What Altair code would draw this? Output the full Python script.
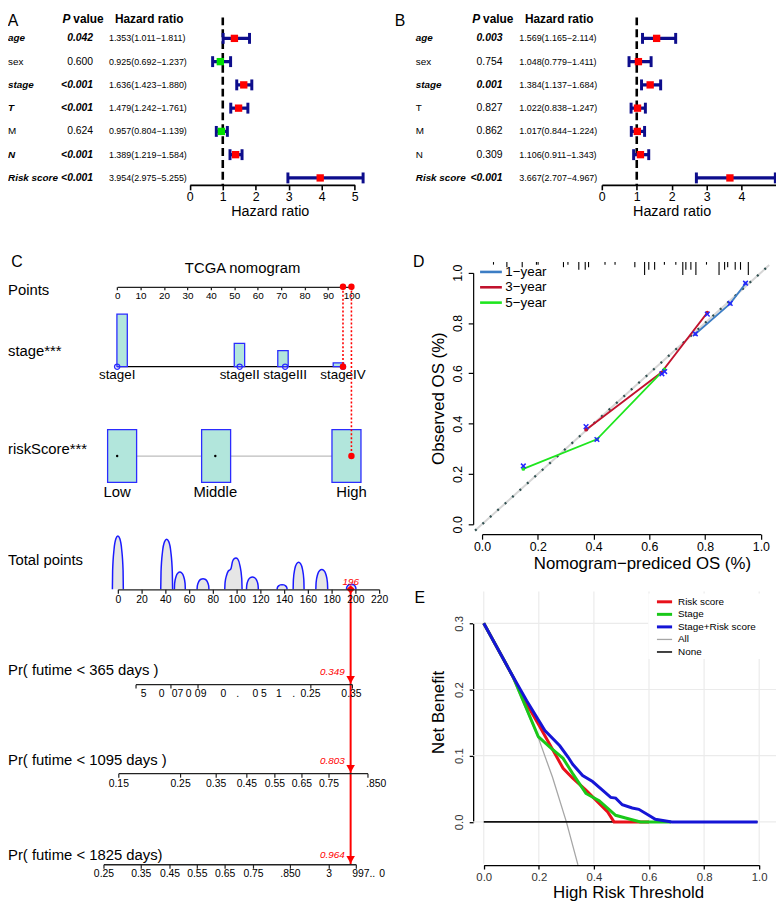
import altair as alt
import pandas as pd

FONT = "Liberation Sans"
W, H = 776, 901
OFF = 8


def R(v):
    return v - OFF


# ---------------- Panel A / B : forest plots ----------------
factors = ["age", "sex", "stage", "T", "M", "N", "Risk score"]
A_p = ["0.042", "0.600", "<0.001", "<0.001", "0.624", "<0.001", "<0.001"]
A_hr = [1.353, 0.925, 1.636, 1.479, 0.957, 1.389, 3.954]
A_lo = [1.011, 0.692, 1.423, 1.242, 0.804, 1.219, 2.975]
A_hi = [1.811, 1.237, 1.880, 1.761, 1.139, 1.584, 5.255]
A_sig = [True, False, True, True, False, True, True]
B_p = ["0.003", "0.754", "0.001", "0.827", "0.862", "0.309", "<0.001"]
B_hr = [1.569, 1.048, 1.384, 1.022, 1.017, 1.106, 3.667]
B_lo = [1.165, 0.779, 1.137, 0.838, 0.844, 0.911, 2.707]
B_hi = [2.114, 1.411, 1.684, 1.247, 1.224, 1.343, 4.967]
B_sig = [True, False, True, False, False, False, True]
hr_domain = [0, 5]
A_ticks = [0, 1, 2, 3, 4, 5]
B_ticks = [0, 1, 2, 3, 4]
hr_ref = 1

# ---------------- Panel C : nomogram ----------------
points_ticks = list(range(0, 101, 10))
stage_levels = ["stageI", "stageII", "stageIII", "stageIV"]
stage_pts = [0, 52.3, 71.7, 96.4]
stage_freq = [0.54, 0.24, 0.165, 0.04]
risk_levels = ["Low", "Middle", "High"]
risk_pts = [0, 41.9, 100]
risk_freq = [0.333, 0.333, 0.334]
sel_stage = "stageIV"
sel_risk = "High"
sel_total = 196
total_ticks = list(range(0, 221, 20))
# density of total points (one list per bump)
tp_x = [
    [-4.6, -4.4, -3.2, -1.6, 0, 1.6, 3.2, 4.4, 4.6],
    [36.1, 36.35, 37.6, 39.35, 41.1, 42.85, 44.6, 45.85, 46.1],
    [47.6, 47.8, 49.0, 50.6, 52.2, 53.8, 55.4, 56.6, 56.8],
    [66.7, 66.95, 68.2, 69.95, 71.7, 73.45, 75.2, 76.45, 76.7],
    [90, 90.3, 91.5, 93, 94.5, 95.3, 96.5, 98, 99.4, 101, 102.8, 104.3, 104.6],
    [108.3, 108.55, 109.8, 111.55, 113.3, 115.05, 116.8, 118.05, 118.3],
    [134.1, 134.3, 135.4, 136.8, 138.3, 139.8, 141.2, 142.3, 142.5],
    [147.6, 147.8, 149.0, 150.6, 152.2, 153.8, 155.4, 156.6, 156.8],
    [166.7, 166.95, 168.2, 169.95, 171.7, 173.45, 175.2, 176.45, 176.7],
    [192.5, 192.7, 193.7, 195.1, 196.5, 197.9, 199.3, 200.3, 200.5],
]
tp_d = [
    [0, 1.9, 4.05, 5.13, 5.4, 5.13, 4.05, 1.9, 0],
    [0, 1.77, 3.8, 4.82, 5.07, 4.82, 3.8, 1.77, 0],
    [0, 0.61, 1.3, 1.65, 1.74, 1.65, 1.3, 0.61, 0],
    [0, 0.37, 0.8, 1.02, 1.07, 1.02, 0.8, 0.37, 0],
    [0, 0.7, 1.4, 1.85, 1.98, 2.1, 2.8, 3.1, 3.17, 3.05, 2.4, 1.1, 0],
    [0, 0.43, 0.93, 1.18, 1.24, 1.18, 0.93, 0.43, 0],
    [0, 0.16, 0.35, 0.45, 0.47, 0.45, 0.35, 0.16, 0],
    [0, 0.96, 2.06, 2.6, 2.74, 2.6, 2.06, 0.96, 0],
    [0, 0.7, 1.5, 1.9, 2.0, 1.9, 1.5, 0.7, 0],
    [0, 0.18, 0.38, 0.48, 0.5, 0.48, 0.38, 0.18, 0],
]
pr365_ticks = [15.3, 44.7, 67.5, 162.5, 197.5]
pr365_labels = ["5", "0", "07", "0", "09", "0", ".", "0 5", "1", ".", "0.25", "0.35"]
pr365_pos = [21.7, 36.9, 50.3, 59.7, 69.7, 88.9, 100.8, 119.4, 135.6, 148.1, 162.2, 196.7]
pr1095_ticks = [0.8, 52.8, 82.8, 108.6, 132.2, 155.0, 177.8, 210.6]
pr1095_labels = ["0.15", "0.25", "0.35", "0.45", "0.55", "0.65", "0.75", ".850"]
pr1095_pos = [0.8, 52.8, 82.8, 108.6, 132.2, 155.0, 177.8, 217.5]
pr1825_ticks = [-11.7, 19.7, 43.9, 66.9, 90.3, 114.2, 145.3, 178.0, 200.8]
pr1825_labels = ["0.25", "0.35", "0.45", "0.55", "0.65", "0.75", ".850", "3", "997..", "0"]
pr1825_pos = [-11.7, 19.7, 43.9, 66.9, 90.3, 114.2, 145.3, 178.0, 207.0, 222.5]
pr_probs = ["0.349", "0.803", "0.964"]

# ---------------- Panel D : calibration ----------------
cal_series = ["1\u2212year", "3\u2212year", "5\u2212year"]
cal_colors = ["#3c7dc4", "#c1122d", "#1ee61e"]
cal1_x = [0.765, 0.890, 0.945]
cal1_y = [0.756, 0.877, 0.957]
cal3_x = [0.373, 0.643, 0.808]
cal3_y = [0.376, 0.603, 0.841]
cal5_x = [0.148, 0.412, 0.654]
cal5_y = [0.220, 0.338, 0.616]
xmark_x = [0.148, 0.373, 0.412, 0.645, 0.655, 0.765, 0.808, 0.890, 0.945]
xmark_y = [0.232, 0.388, 0.337, 0.598, 0.607, 0.757, 0.835, 0.878, 0.958]
diag_v = [-0.025, 1.03]
rug_x = [0.041, 0.089, 0.144, 0.195, 0.201, 0.292, 0.308, 0.347, 0.370, 0.382,
         0.441, 0.477, 0.548, 0.583, 0.598, 0.619, 0.654, 0.695, 0.720, 0.731,
         0.749, 0.767, 0.805, 0.850, 0.870, 0.881, 0.908, 0.927, 0.955]
rug_n = [1, 2, 2, 1, 1, 2, 1, 3, 3, 2, 1, 1, 2, 5, 3, 3, 1, 1, 5, 3, 3, 5, 1, 5, 3, 2, 3, 3, 5]
unit_ticks = [0, 0.2, 0.4, 0.6, 0.8, 1.0]

# ---------------- Panel E : decision curve ----------------
dca_all_x = [0, 0.1, 0.2, 0.25, 0.3, 0.342]
dca_all_y = [0.3, 0.222, 0.125, 0.067, 0.0, -0.065]
dca_none_x = [0, 0.994]
dca_none_y = [0, 0]
dca_risk_x = [0, 0.108, 0.156, 0.198, 0.245, 0.288, 0.323, 0.371, 0.419, 0.45, 0.473, 0.6]
dca_risk_y = [0.3, 0.218, 0.178, 0.148, 0.113, 0.081, 0.066, 0.048, 0.028, 0.015, 0.0, 0.0]
dca_stage_x = [0, 0.108, 0.198, 0.24, 0.288, 0.323, 0.371, 0.419, 0.479, 0.515, 0.569, 0.68]
dca_stage_y = [0.3, 0.218, 0.129, 0.113, 0.096, 0.073, 0.043, 0.032, 0.01, 0.006, 0.0, 0.0]
dca_both_x = [0, 0.108, 0.156, 0.222, 0.276, 0.306, 0.323, 0.359, 0.395, 0.431, 0.461,
              0.479, 0.503, 0.539, 0.563, 0.599, 0.623, 0.683, 0.994]
dca_both_y = [0.3, 0.218, 0.183, 0.138, 0.115, 0.098, 0.087, 0.070, 0.061, 0.048, 0.037,
              0.036, 0.026, 0.021, 0.019, 0.010, 0.004, 0.0, 0.0]
dca_names = ["Risk score", "Stage", "Stage+Risk score", "All", "None"]
dca_colors = ["#e8111b", "#19c819", "#1515d6", "#a6a6a6", "#111111"]
dca_widths = [3, 3, 3, 1.3, 1.6]
dca_xticks = [0, 0.2, 0.4, 0.6, 0.8, 1.0]
dca_yticks = [0, 0.1, 0.2, 0.3]

# ---------------- helpers ----------------
NAVY = "#0d0d8c"
TEAL = "#b2e6dc"
BOXBLUE = "#2b2bff"
ONE = pd.DataFrame({"k": [0]})


def sc(domain, rng):
    return alt.Scale(domain=domain, range=rng, nice=False, zero=False)


def T(text, x, y, size, align="center", baseline="middle", color="black", **kw):
    return alt.Chart(ONE).mark_text(
        text=text, font=FONT, fontSize=size, align=align, baseline=baseline, color=color, **kw
    ).encode(x=alt.value(x), y=alt.value(y))


def axis(orient, offset, values, fmt, size, **kw):
    base = dict(orient=orient, offset=offset, values=values, format=fmt, title=None, grid=False,
                domainColor="black", domainWidth=1.3, tickColor="black", tickWidth=1.3,
                tickSize=5, labelFont=FONT, labelFontSize=size, labelColor="black",
                labelPadding=2, labelFlush=False, labelOverlap=False)
    base.update(kw)
    return alt.Axis(**base)


layers = []


# ---------------- forest panels ----------------
def forest(hr, lo, hi, pv, sig, ticks, x0, x5, lab_x, p_x, hr_x, hp_x, hv_x, hh_x, letter, let_x, title_x):
    df = pd.DataFrame(dict(row=list(range(len(factors))), factor=factors, p=pv,
                           hr=hr, lo=lo, hi=hi, sig=sig))
    df["hrtxt"] = [f"{a:.3f}({b:.3f}\u2212{c:.3f})" for a, b, c in zip(hr, lo, hi)]
    df["col"] = ["#00e000" if a < hr_ref else "#ff0000" for a in hr]
    xs = sc(hr_domain, [R(x0), R(x5)])
    ys = sc([0, len(factors) - 1], [R(34), R(175)])
    Y = alt.Y("row:Q", scale=ys, axis=None)
    ax = axis("bottom", R(182) - H, ticks, "d", 12.5, domainWidth=1.6, tickWidth=1.6,
              labelPadding=1, zindex=1)
    ref = pd.DataFrame({"v": [hr_ref], "a": [-0.9], "b": [len(factors) - 1 + 0.3]})
    out = [
        alt.Chart(ref).mark_rule(color="black", strokeWidth=2.6, strokeDash=[8, 4]).encode(
            x=alt.X("v:Q", scale=xs, axis=None), y=alt.Y("a:Q", scale=ys, axis=None), y2="b:Q"),
        alt.Chart(df).mark_rule(color=NAVY, strokeWidth=3.3).encode(
            x=alt.X("lo:Q", scale=xs, axis=ax), x2="hi:Q", y=Y),
        alt.Chart(df).transform_fold(["lo", "hi"], as_=["end", "val"]).mark_tick(
            orient="vertical", color=NAVY, thickness=3, size=11, opacity=1).encode(
            x=alt.X("val:Q", scale=xs, axis=None), y=Y),
        alt.Chart(df).mark_square(size=55, opacity=1).encode(
            x=alt.X("hr:Q", scale=xs, axis=None), y=Y, color=alt.Color("col:N", scale=None)),
        alt.Chart(df).transform_filter("datum.sig").mark_text(
            align="left", font=FONT, fontSize=10, fontWeight="bold", fontStyle="italic").encode(
            x=alt.value(lab_x), y=Y, text="factor:N"),
        alt.Chart(df).transform_filter("!datum.sig").mark_text(
            align="left", font=FONT, fontSize=10).encode(x=alt.value(lab_x), y=Y, text="factor:N"),
        alt.Chart(df).transform_filter("datum.sig").mark_text(
            align="right", font=FONT, fontSize=10.5, fontWeight="bold", fontStyle="italic").encode(
            x=alt.value(p_x), y=Y, text="p:N"),
        alt.Chart(df).transform_filter("!datum.sig").mark_text(
            align="right", font=FONT, fontSize=10.5).encode(x=alt.value(p_x), y=Y, text="p:N"),
        alt.Chart(df).mark_text(align="left", font=FONT, fontSize=9).encode(
            x=alt.value(hr_x), y=Y, text="hrtxt:N"),
        T("P", hp_x, 1, 12, align="left", baseline="top", fontWeight="bold", fontStyle="italic"),
        T("value", hv_x, 1, 12, align="left", baseline="top", fontWeight="bold"),
        T("Hazard ratio", hh_x, 1, 12, align="left", baseline="top", fontWeight="bold"),
        T(letter, let_x, 0, 16, baseline="top"),
        T("Hazard ratio", title_x, R(209.5), 14.5),
    ]
    return out


layers += forest(A_hr, A_lo, A_hi, A_p, A_sig, A_ticks, 191.7, 358.3, 0, R(94), R(110),
                 R(63), R(74), R(116), "A", 5, R(273))
layers += forest(B_hr, B_lo, B_hi, B_p, B_sig, B_ticks, 608, 784.5, R(420), R(507.7), R(524.7),
                 R(477), R(488), R(530.3), "B", R(404), R(679))

# ---------------- nomogram panel C ----------------
PT_AX_Y = R(285)
STAGE_BASE_Y = R(365.7)
RISK_MID_Y = R(456)
TOT_AX_Y = R(590.7)
xP = sc([0, 100], [R(118.3), R(355)])
yS = sc([0, 0.54], [STAGE_BASE_Y, STAGE_BASE_Y - 53])
yRk = sc([-0.5, 0.5], [RISK_MID_Y + 80, RISK_MID_Y - 80])
xT = sc([0, 220], [R(119), R(383)])
yDn = sc([0, 6], [TOT_AX_Y, TOT_AX_Y - 60])

df_stage = pd.DataFrame({"stage": stage_levels, "pts": stage_pts, "freq": stage_freq})
df_stage["base"] = 0.0
df_risk = pd.DataFrame({"grp": risk_levels, "pts": risk_pts, "freq": risk_freq})
df_pts = pd.DataFrame({"t": points_ticks})
sel_pts = pd.DataFrame({"pts": [stage_pts[stage_levels.index(sel_stage)],
                                risk_pts[risk_levels.index(sel_risk)]]})

XP = lambda f, ax=None: alt.X(f, type="quantitative", scale=xP, axis=ax)
XT = lambda f, ax=None: alt.X(f, type="quantitative", scale=xT, axis=ax)

layers += [
    T("C", R(17), R(260), 16),
    T("TCGA nomogram", R(245), R(266), 15),
    T("Points", 0, R(288.3), 15, align="left"),
    T("stage***", 0, R(350), 15, align="left"),
    T("riskScore***", 0, R(449.3), 15, align="left"),
    T("Total points", 0, R(561), 15, align="left"),
    T("Pr( futime < 365 days )", 0, R(672.7), 15, align="left"),
    T("Pr( futime < 1095 days )", 0, R(763.3), 15, align="left"),
    T("Pr( futime < 1825 days)", 0, R(859.3), 15, align="left"),
    # points axis
    alt.Chart(df_pts).mark_point(opacity=0).encode(
        x=XP("t", axis("bottom", PT_AX_Y - H, points_ticks, "d", 10, tickSize=3,
                       labelPadding=1, domainColor="#222", tickColor="#222")),
        y=alt.value(PT_AX_Y)),
    # stage row
    alt.Chart(pd.DataFrame({"a": [min(stage_pts)], "b": [max(stage_pts)], "y": [0]})).mark_rule(
        color="black", strokeWidth=1.3).encode(
        x=XP("a"), x2="b:Q", y=alt.Y("y:Q", scale=yS, axis=None)),
    alt.Chart(df_stage).mark_bar(size=10.5, orient="vertical", fill=TEAL, stroke=BOXBLUE,
                                 strokeWidth=1.3).encode(
        x=XP("pts"), y=alt.Y("freq:Q", scale=yS, axis=None), y2="base:Q"),
    alt.Chart(df_stage).mark_point(shape="circle", size=28, color=BOXBLUE, filled=False,
                                   strokeWidth=1.3, opacity=1).encode(
        x=XP("pts"), y=alt.Y("base:Q", scale=yS, axis=None)),
    alt.Chart(df_stage).mark_text(font=FONT, fontSize=13.5, dy=8.8).encode(
        x=XP("pts"), y=alt.Y("base:Q", scale=yS, axis=None), text="stage:N"),
    # risk row
    alt.Chart(pd.DataFrame({"a": [min(risk_pts)], "b": [max(risk_pts)], "y": [0]})).mark_rule(
        color="#bdbdbd", strokeWidth=1.3).encode(
        x=XP("a"), x2="b:Q", y=alt.Y("y:Q", scale=yRk, axis=None)),
    alt.Chart(df_risk).transform_calculate(lo="-datum.freq/2", hi="datum.freq/2").mark_bar(
        size=29.3, orient="vertical", fill=TEAL, stroke=BOXBLUE, strokeWidth=1.3).encode(
        x=XP("pts"), y=alt.Y("lo:Q", scale=yRk, axis=None), y2="hi:Q"),
    alt.Chart(df_risk).transform_filter(f"datum.grp != '{sel_risk}'").transform_calculate(
        c="0").mark_circle(size=6, color="black", opacity=1).encode(
        x=XP("pts"), y=alt.Y("c:Q", scale=yRk, axis=None)),
    alt.Chart(df_risk).transform_calculate(lo="-datum.freq/2").mark_text(
        font=FONT, fontSize=15, dy=9.5).encode(
        x=XP("pts"), y=alt.Y("lo:Q", scale=yRk, axis=None), text="grp:N"),
    # selection connectors
    alt.Chart(df_stage).transform_filter(f"datum.stage == '{sel_stage}'").mark_rule(
        color="red", strokeDash=[2, 2], strokeWidth=1.6).encode(
        x=XP("pts"), y=alt.value(PT_AX_Y), y2=alt.value(STAGE_BASE_Y)),
    alt.Chart(df_risk).transform_filter(f"datum.grp == '{sel_risk}'").mark_rule(
        color="red", strokeDash=[2, 2], strokeWidth=1.6).encode(
        x=XP("pts"), y=alt.value(PT_AX_Y), y2=alt.value(RISK_MID_Y)),
    alt.Chart(sel_pts).mark_circle(size=42, color="red", opacity=1).encode(
        x=XP("pts"), y=alt.value(PT_AX_Y)),
    alt.Chart(df_stage).transform_filter(f"datum.stage == '{sel_stage}'").mark_circle(
        size=42, color="red", opacity=1).encode(
        x=XP("pts"), y=alt.Y("base:Q", scale=yS, axis=None)),
    alt.Chart(df_risk).transform_filter(f"datum.grp == '{sel_risk}'").transform_calculate(
        c="0").mark_circle(size=42, color="red", opacity=1).encode(
        x=XP("pts"), y=alt.Y("c:Q", scale=yRk, axis=None)),
]

# total points density
rows = []
for i, (xs_, ds_) in enumerate(zip(tp_x, tp_d)):
    for a, b in zip(xs_, ds_):
        rows.append({"bump": i, "tp": a, "d": b})
df_tp = pd.DataFrame(rows)
df_sel = pd.DataFrame({"tp": [sel_total], "lab": [str(sel_total)], "z": [0]})
layers += [
    alt.Chart(df_tp).mark_area(color="#e6e6e6", interpolate="monotone", opacity=1).encode(
        x=XT("tp"), y=alt.Y("d:Q", scale=yDn, axis=None), detail="bump:N"),
    alt.Chart(df_tp).mark_line(color="#1a1aff", strokeWidth=1.5, interpolate="monotone").encode(
        x=XT("tp", axis("bottom", TOT_AX_Y - H, total_ticks, "d", 10.5, tickSize=4,
                        labelPadding=1, domainColor="#222", tickColor="#222", zindex=1)),
        y=alt.Y("d:Q", scale=yDn, axis=None), detail="bump:N"),
    alt.Chart(df_sel).mark_rule(color="red", strokeWidth=2).encode(
        x=XT("tp"), y=alt.value(TOT_AX_Y), y2=alt.value(R(869))),
    alt.Chart(df_sel).mark_point(shape="diamond", filled=True, color="red", size=70, opacity=1).encode(
        x=XT("tp"), y=alt.value(TOT_AX_Y)),
    alt.Chart(df_sel).mark_text(font=FONT, fontSize=10, fontStyle="italic", color="red").encode(
        x=XT("tp"), y=alt.value(R(583)), text="lab:N"),
]


def pr_axis(ticks, labels, pos, prob, y_line, y_lab, y_val):
    dt = pd.DataFrame({"t": ticks})
    dl = pd.DataFrame({"pos": pos, "lab": labels})
    dseg = pd.DataFrame({"a": [min(ticks)], "b": [max(ticks)]})
    dsel = pd.DataFrame({"tp": [sel_total], "prob": [prob]})
    return [
        alt.Chart(dseg).mark_rule(color="#222", strokeWidth=1.3).encode(
            x=XT("a"), x2="b:Q", y=alt.value(y_line)),
        alt.Chart(dt).mark_rule(color="#222", strokeWidth=1.2).encode(
            x=XT("t"), y=alt.value(y_line), y2=alt.value(y_line + 4)),
        alt.Chart(dl).mark_text(font=FONT, fontSize=10.5).encode(
            x=XT("pos"), y=alt.value(y_lab), text="lab:N"),
        alt.Chart(dsel).mark_point(shape="triangle-down", filled=True, color="red", size=75,
                                   opacity=1).encode(x=XT("tp"), y=alt.value(y_line - 5)),
        alt.Chart(dsel).mark_text(font=FONT, fontSize=10, fontStyle="italic", color="red",
                                  align="right", dx=-6).encode(
            x=XT("tp"), y=alt.value(y_val), text="prob:N"),
    ]


layers += pr_axis(pr365_ticks, pr365_labels, pr365_pos, pr_probs[0], R(687), R(696), R(674.3))
layers += pr_axis(pr1095_ticks, pr1095_labels, pr1095_pos, pr_probs[1], R(777), R(787.5), R(764.3))
layers += pr_axis(pr1825_ticks, pr1825_labels, pr1825_pos, pr_probs[2], R(869), R(878.5), R(859.3))

# ---------------- calibration panel D ----------------
xD = sc([0, 1], [R(487), R(768.7)])
yD = sc([0, 1], [R(525), R(270.7)])
XD = lambda f, ax=None: alt.X(f, type="quantitative", scale=xD, axis=ax)
YD = lambda f, ax=None: alt.Y(f, type="quantitative", scale=yD, axis=ax)
df_diag = pd.DataFrame({"x": diag_v, "y": diag_v})
df_rug = pd.DataFrame({"x": rug_x, "n": rug_n})
cal_rows = []
for s, c, xs_, ys_ in zip(cal_series, cal_colors, [cal1_x, cal3_x, cal5_x], [cal1_y, cal3_y, cal5_y]):
    for a, b in zip(xs_, ys_):
        cal_rows.append({"series": s, "col": c, "x": a, "y": b})
df_cal = pd.DataFrame(cal_rows)
df_xm = pd.DataFrame({"x": xmark_x, "y": xmark_y})
df_legD = pd.DataFrame({"i": list(range(len(cal_series))), "s": cal_series, "col": cal_colors})
yLD = sc([0, 2], [R(270), R(301)])
XSHAPE = "M -1 -1 L 1 1 M 1 -1 L -1 1"

layers += [
    alt.Chart(df_diag).mark_line(color="#d6d6d6", strokeWidth=2).encode(
        x=XD("x", axis("bottom", R(535) - H, unit_ticks, ".1f", 12.5, tickWidth=1.2,
                       domainWidth=1.2, labelPadding=1.5)),
        y=YD("y", axis("left", -R(478), unit_ticks, ".1f", 12.5, tickWidth=1.2, domainWidth=1.2,
                       labelAngle=270, labelAlign="center", labelBaseline="bottom",
                       labelPadding=4))),
    alt.Chart(df_diag).mark_line(color="#2f4f4f", strokeWidth=2.3, strokeDash=[2, 8.1]).encode(
        x=XD("x"), y=YD("y")),
    alt.Chart(df_rug).transform_calculate(top="1.042", bot="1.042 - 0.0102*datum.n").mark_rule(
        color="black", strokeWidth=1.1).encode(x=XD("x"), y=YD("top"), y2="bot:Q"),
    alt.Chart(df_cal).mark_line(strokeWidth=1.8).encode(
        x=XD("x"), y=YD("y"), color=alt.Color("col:N", scale=None), detail="series:N"),
    alt.Chart(df_cal).mark_circle(size=14, opacity=1).encode(
        x=XD("x"), y=YD("y"), color=alt.Color("col:N", scale=None)),
    alt.Chart(df_xm).mark_point(shape=XSHAPE, size=22, color="#2525ff", strokeWidth=1.5,
                                opacity=1).encode(x=XD("x"), y=YD("y")),
    alt.Chart(df_legD).mark_rule(strokeWidth=2.6).encode(
        x=alt.value(R(485)), x2=alt.value(R(507)), y=alt.Y("i:Q", scale=yLD, axis=None),
        color=alt.Color("col:N", scale=None)),
    alt.Chart(df_legD).mark_text(font=FONT, fontSize=13.5, align="left").encode(
        x=alt.value(R(510.5)), y=alt.Y("i:Q", scale=yLD, axis=None), text="s:N"),
    T("D", R(423), R(260), 16),
    T("Observed OS (%)", R(444), R(398), 17, angle=270),
    T("Nomogram\u2212prediced OS (%)", R(649), R(565), 17),
]

# ---------------- decision curve panel E ----------------
xE = sc([0, 1], [R(488.7), R(767)])
yE = sc([0, 0.3], [R(825.7), R(625)])
XE = lambda f, ax=None: alt.X(f, type="quantitative", scale=xE, axis=ax)
YE = lambda f, ax=None: alt.Y(f, type="quantitative", scale=yE, axis=ax)
df_gx = pd.DataFrame({"g": dca_xticks, "lo": -0.063, "hi": 0.348})
df_gy = pd.DataFrame({"g": dca_yticks, "lo": -0.0385, "hi": 1.07})
GRID = "#ebebeb"
layers += [
    alt.Chart(df_gx).mark_rule(color=GRID, strokeWidth=1.2).encode(
        x=XE("g"), y=YE("lo"), y2="hi:Q"),
    alt.Chart(df_gy).mark_rule(color=GRID, strokeWidth=1.2).encode(
        y=YE("g"), x=XE("lo"), x2="hi:Q"),
    alt.Chart(ONE).mark_rect(color="white").encode(
        x=alt.value(R(655)), x2=alt.value(W), y=alt.value(R(595)), y2=alt.value(R(661))),
]
series_data = [
    (dca_all_x, dca_all_y, 3),
    (dca_none_x, dca_none_y, 4),
    (dca_risk_x, dca_risk_y, 0),
    (dca_stage_x, dca_stage_y, 1),
    (dca_both_x, dca_both_y, 2),
]
for k, (sx, sy, idx) in enumerate(series_data):
    d = pd.DataFrame({"x": sx, "y": sy})
    if k == 1:
        enc = dict(
            x=XE("x", axis("bottom", R(869.3) - H, dca_xticks, ".1f", 11.5, tickSize=4,
                           labelColor="#333", labelPadding=3)),
            y=YE("y", axis("left", -R(478), dca_yticks, ".1f", 11.5, tickSize=4,
                           labelColor="#333", labelAngle=270, labelAlign="center",
                           labelBaseline="bottom", labelPadding=5)))
    else:
        enc = dict(x=XE("x"), y=YE("y"))
    layers.append(alt.Chart(d).mark_line(color=dca_colors[idx], strokeWidth=dca_widths[idx]).encode(**enc))

df_legE = pd.DataFrame({"i": list(range(len(dca_names))), "s": dca_names, "col": dca_colors,
                        "w": dca_widths})
yLE = sc([0, 4], [R(603.3), R(654)])
layers += [
    alt.Chart(df_legE).mark_rule().encode(
        x=alt.value(R(663.7)), x2=alt.value(R(679)), y=alt.Y("i:Q", scale=yLE, axis=None),
        color=alt.Color("col:N", scale=None), strokeWidth=alt.StrokeWidth("w:Q", scale=None)),
    alt.Chart(df_legE).mark_text(font=FONT, fontSize=10, align="left").encode(
        x=alt.value(R(685)), y=alt.Y("i:Q", scale=yLE, axis=None), text="s:N"),
    T("E", R(424), R(600), 16),
    T("Net Benefit", R(444), R(715), 17, angle=270),
    T("High Risk Threshold", R(635), R(898), 17),
]

chart = alt.layer(*layers).resolve_scale(
    x="independent", y="independent", color="independent", strokeWidth="independent"
).properties(
    width=W, height=H, padding=0, autosize=alt.AutoSizeParams(type="none")
).configure_view(stroke=None)

chart.save("out.html", embed_options={"renderer": "svg", "actions": False})
